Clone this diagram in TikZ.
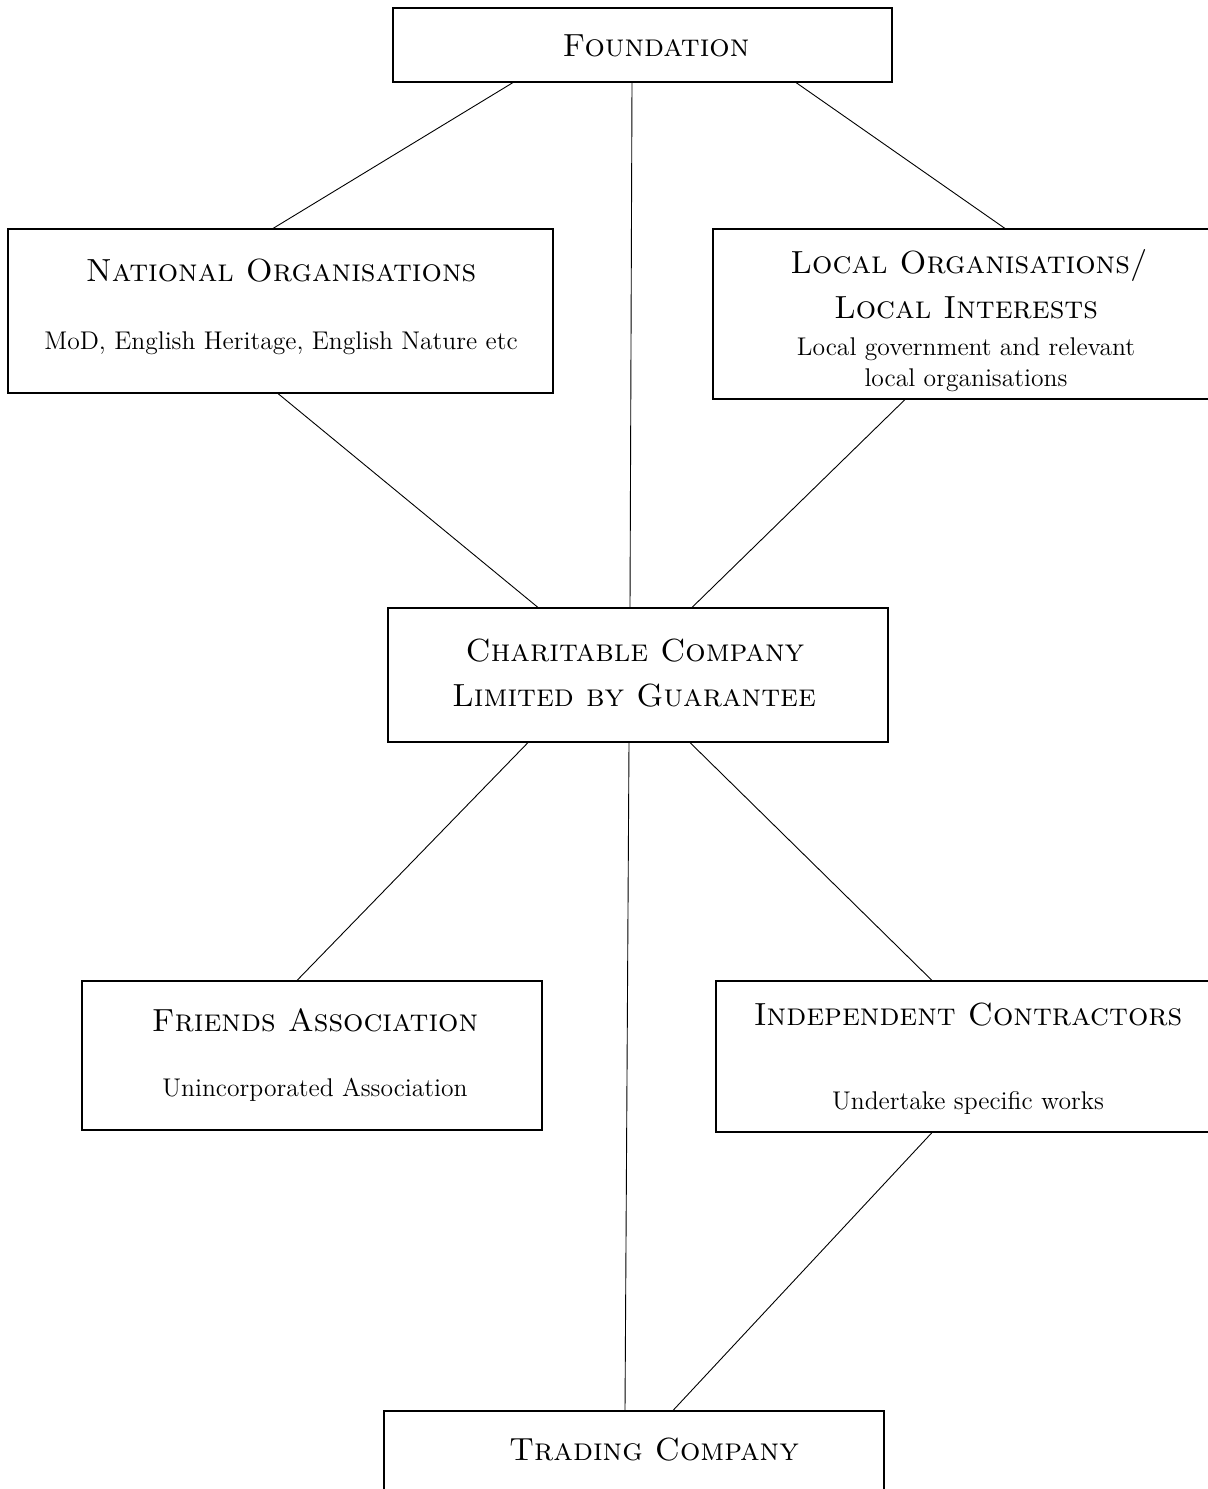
\documentclass[tikz,border=0pt]{standalone}
\usepackage{tikz}
\usetikzlibrary{calc}

\tikzset{
  box/.style={draw,line width=0.55pt,inner sep=0pt},
  head/.style={anchor=base,inner sep=0pt,font=\fontsize{16}{19}\selectfont\scshape},
  sub/.style={anchor=base,inner sep=0pt,font=\fontsize{12.8}{15}\selectfont},
  link/.style={line width=0.45pt}
}

\begin{document}
\begin{tikzpicture}[x=0.5pt,y=-0.5pt]
        \useasboundingbox (0,0) rectangle (1208,1489);
        \clip (0,0) rectangle (1208,1489);
        % boxes
        \node[box,minimum width=249.5pt,minimum height=37pt] (found) at (642.5,45) {};
        \node[box,minimum width=272.5pt,minimum height=82pt] (natorg) at (280.5,311) {};
        \node[box,minimum width=249.5pt,minimum height=85pt] (locorg) at (962.5,314) {};
        \node[box,minimum width=250pt,minimum height=67pt] (charity) at (638,675) {};
        \node[box,minimum width=230pt,minimum height=74.5pt] (friends) at (312,1055.5) {};
        \node[box,minimum width=248pt,minimum height=75.5pt] (contract) at (964,1056.5) {};
        \node[box,minimum width=250pt,minimum height=42pt] (trading) at (634,1453) {};
        % texts
        \node[head] (found-h) at (656,56) {Foundation};
        \node[head] (natorg-h) at (281,281) {National Organisations};
        \node[sub] (natorg-s) at (281,349) {MoD, English Heritage, English Nature etc};
        \node[head] (locorg-h1) at (969,273) {Local Organisations/};
        \node[head] (locorg-h2) at (966,318) {Local Interests};
        \node[sub] (locorg-s1) at (966,355) {Local government and relevant};
        \node[sub] (locorg-s2) at (966,386) {local organisations};
        \node[head] (charity-h1) at (635,661) {Charitable Company};
        \node[head] (charity-h2) at (634,706) {Limited by Guarantee};
        \node[head] (friends-h) at (315,1031) {Friends Association};
        \node[sub] (friends-s) at (315,1096) {Unincorporated Association};
        \node[head] (contract-h) at (968,1025) {Independent Contractors};
        \node[sub] (contract-s) at (968,1109) {Undertake specific works};
        \node[head] (trading-h) at (654,1460) {Trading Company};
        % links
        \draw[link] ($(found.south)+(-129.5,0)$) -- ($(natorg.north)+(-7.5,0)$);
        \draw[link] ($(found.south)+(-10.5,0)$) -- ($(charity.north)+(-8,0)$);
        \draw[link] ($(found.south)+(153.5,0)$) -- ($(locorg.north)+(42.5,0)$);
        \draw[link] ($(natorg.south)+(-2.5,0)$) -- ($(charity.north)+(-100,0)$);
        \draw[link] ($(locorg.south)+(-57.5,0)$) -- ($(charity.north)+(54,0)$);
        \draw[link] ($(charity.south)+(-110,0)$) -- ($(friends.north)+(-15,0)$);
        \draw[link] ($(charity.south)+(-9,0)$) -- ($(trading.north)+(-9,0)$);
        \draw[link] ($(charity.south)+(52,0)$) -- ($(contract.north)+(-32,0)$);
        \draw[link] ($(contract.south)+(-32,0)$) -- ($(trading.north)+(39,0)$);
      \end{tikzpicture}
\end{document}
